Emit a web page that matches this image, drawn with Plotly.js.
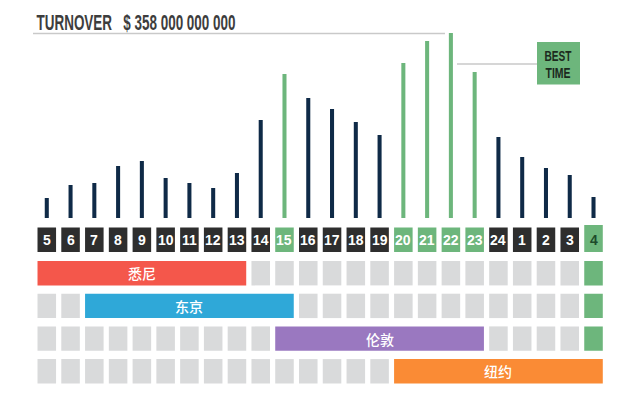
<!DOCTYPE html>
<html><head><meta charset="utf-8">
<script src="https://cdn.plot.ly/plotly-3.0.1.min.js"></script>
<style>html,body{margin:0;padding:0;background:#fff}#chart{width:640px;height:397px}</style>
</head><body><div id="chart"></div>
<script>
// ---- data ----
const hours = ['5','6','7','8','9','10','11','12','13','14','15','16','17','18','19','20','21','22','23','24','1','2','3','4'];
const turnover = [20,33,35,52,57,40,35,30,45,98,144,120,109,96,83,155,177,185,146,81,61,50,43,21];
const bestHours = ['15','20','21','22','23'];
const currentHour = '4';
const cities = ['悉尼','东京','伦敦','纽约'];
const cityOpen = ['5','7','15','20'];
const cityClose = ['13','15','23','4'];
const cityColors = ['#f4574b','#2fa8d8','#9a78c0','#fa8b35'];
const titleLabel = 'TURNOVER';
const titleValue = '$ 358 000 000 000';
const bestLabel = ['BEST','TIME'];

// ---- styles ----
const W = 640, H = 397;
const NAVY = '#0f2a47', GREEN = '#6db67c', DARK = '#2e2e2e', GRAY = '#d9dadb', LINE = '#c9c9c9';
const pf = py => (H - py) / H;       // pixel y -> paper y
const px = x => x / W;               // pixel x -> paper x
const headFont = 'Liberation Sans, Arial, sans-serif';

const idx = hours.map((h, i) => i);
const barColors = hours.map(h => bestHours.includes(h) ? GREEN : NAVY);

const shapes = [];
const annotations = [];

// hour label boxes
hours.forEach((h, i) => {
  const isCur = h === currentHour;
  const isBest = bestHours.includes(h);
  shapes.push({type:'rect', xref:'x', yref:'paper', x0:i-0.39, x1:i+0.39,
    y0:pf(252), y1:pf(isCur ? 225 : 227.5), fillcolor: (isBest||isCur) ? GREEN : DARK, line:{width:0}, layer:'below'});
  annotations.push({xref:'x', yref:'paper', x:i, y:pf(239.5), text:h, showarrow:false,
    xanchor:'center', yanchor:'middle',
    font:{family:'Liberation Sans, Arial, sans-serif', size:14, weight:'bold', color: isCur ? '#1d4b2b' : '#ffffff'}});
});

// market rows
cities.forEach((c, r) => {
  const top = 261 + r * 32.7, bot = top + 24.4;
  const s = hours.indexOf(cityOpen[r]), e = hours.indexOf(cityClose[r]);
  hours.forEach((h, i) => {
    if (i >= s && i <= e) return;
    shapes.push({type:'rect', xref:'x', yref:'paper', x0:i-0.39, x1:i+0.39, y0:pf(bot), y1:pf(top),
      fillcolor: h === currentHour ? GREEN : GRAY, line:{width:0}, layer:'below'});
  });
  shapes.push({type:'rect', xref:'x', yref:'paper', x0:s-0.39, x1:e+0.39, y0:pf(bot), y1:pf(top),
    fillcolor: cityColors[r], line:{width:0}, layer:'below'});
  annotations.push({xref:'x', yref:'paper', x:(s+e)/2, y:pf((top+bot)/2), text:c, showarrow:false,
    xanchor:'center', yanchor:'middle',
    font:{family:'Noto Sans CJK SC, sans-serif', size:14, weight:500, color:'#ffffff'}});
});

// title (one text line: label + value)
const titleText = titleLabel + '\u00a0\u00a0\u00a0' + titleValue;
annotations.push({xref:'paper', yref:'paper', x:px(135.5), y:pf(22.5), text:titleText, showarrow:false,
  width:200, xanchor:'center', yanchor:'middle', font:{family:headFont, size:22, weight:'bold', color:'#3d3d3d'}});
shapes.push({type:'line', xref:'paper', yref:'paper', x0:px(33), x1:px(445), y0:pf(33.5), y1:pf(33.5),
  line:{color:LINE, width:1.5}});

// best time
shapes.push({type:'line', xref:'paper', yref:'paper', x0:px(457), x1:px(537), y0:pf(64), y1:pf(64),
  line:{color:LINE, width:1.5}});
shapes.push({type:'rect', xref:'paper', yref:'paper', x0:px(537), x1:px(580), y0:pf(84.5), y1:pf(42),
  fillcolor:GREEN, line:{width:0}});
bestLabel.forEach((t, k) => {
  annotations.push({xref:'paper', yref:'paper', x:px(558.3), y:pf(56 + k * 16.5), text:t, showarrow:false,
    width:28, xanchor:'center', yanchor:'middle', font:{family:headFont, size:15, weight:'bold', color:'#1c2a1e'}});
});

const traces = [{
  type:'bar', x: idx, y: turnover, width: 0.17,
  marker:{color: barColors, line:{width:0}}, hoverinfo:'skip'
}];

const layout = {
  width: W, height: H, margin:{l:0, r:0, t:0, b:0},
  paper_bgcolor:'#ffffff', plot_bgcolor:'rgba(0,0,0,0)',
  showlegend:false,
  xaxis:{domain:[px(34.9), px(605.4)], range:[-0.5, 23.5], visible:false, fixedrange:true},
  yaxis:{domain:[pf(218), pf(18)], range:[0, 200], visible:false, fixedrange:true},
  shapes, annotations
};

// condensed look for the headline texts (the original uses a narrow display face)
const fitWidth = {};
fitWidth[titleText] = 199;
fitWidth[bestLabel[0]] = 27; fitWidth[bestLabel[1]] = 25;

Plotly.newPlot('chart', traces, layout, {staticPlot:true, displayModeBar:false}).then(gd => {
  gd.querySelectorAll('text.annotation-text').forEach(t => {
    const L = fitWidth[t.textContent];
    if (L) { t.setAttribute('textLength', L); t.setAttribute('lengthAdjust', 'spacingAndGlyphs'); }
  });
});
</script></body></html>
